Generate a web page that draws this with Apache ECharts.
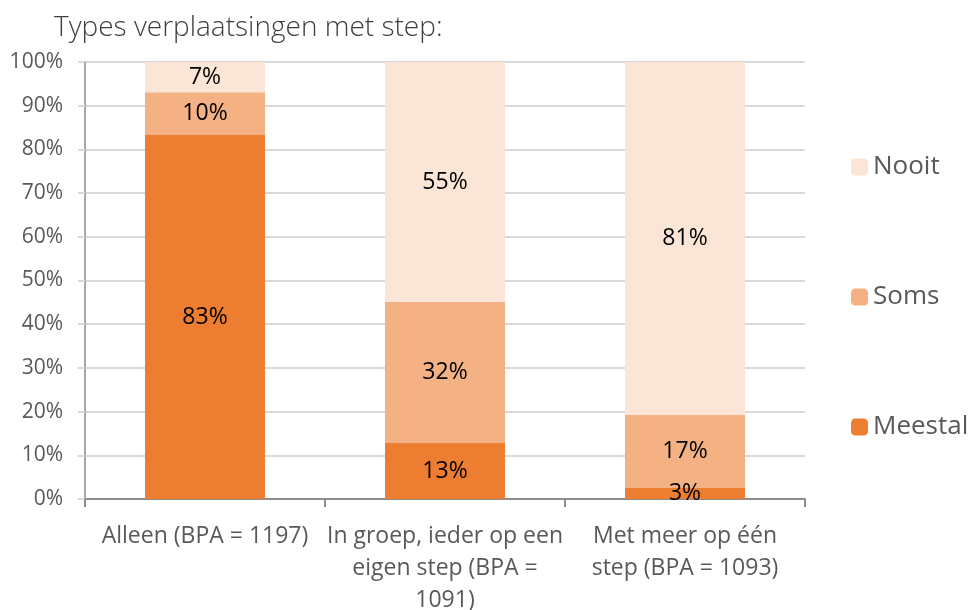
<!DOCTYPE html>
<html>
<head>
<meta charset="utf-8">
<script src="https://cdn.jsdelivr.net/npm/echarts@6/dist/echarts.min.js"></script>
<style>
  html, body { margin: 0; padding: 0; background: #fff; }
  #chart { width: 971px; height: 610px; }
</style>
</head>
<body>
<div id="chart"></div>
<script>
const categories = [
  'Alleen (BPA = 1197)',
  'In groep, ieder op een\neigen step (BPA =\n1091)',
  'Met meer op één\nstep (BPA = 1093)'
]
const meestal = [83.3, 12.8, 2.5]
const soms = [9.8, 32.3, 16.7]
const nooit = [6.9, 54.9, 80.8]
const yTicks = [0, 10, 20, 30, 40, 50, 60, 70, 80, 90, 100]

const font = '"Open Sans", "Liberation Sans", sans-serif'

let chart = echarts.init(document.getElementById('chart'))

const label = {
  show: true,
  position: 'inside',
  color: '#000',
  fontSize: 23,
  fontFamily: font,
  formatter: p => Math.round(p.value) + '%'
}

chart.setOption({
  animation: false,
  title: {
    text: 'Types verplaatsingen met step:',
    left: 49,
    top: 9,
    textStyle: { fontFamily: font, fontWeight: 300, fontSize: 28, color: '#404040' }
  },
  legend: {
    orient: 'vertical',
    left: 846,
    top: 149,
    itemGap: 104,
    itemWidth: 17,
    itemHeight: 17,
    data: ['Nooit', 'Soms', 'Meestal'],
    textStyle: { fontFamily: font, fontSize: 26, color: '#595959' }
  },
  grid: { left: 85, right: 166, top: 62, bottom: 111, containLabel: false, outerBoundsMode: 'none' },
  xAxis: {
    type: 'category',
    data: categories,
    axisLine: { lineStyle: { color: '#8c8c8c', width: 2 } },
    axisTick: { show: true, length: 8, lineStyle: { color: '#8c8c8c', width: 2 } },
    axisLabel: {
      fontFamily: font, fontSize: 23, color: '#595959',
      lineHeight: 32, margin: 21, interval: 0
    }
  },
  yAxis: {
    type: 'value',
    min: 0,
    max: 100,
    interval: 10,
    axisLine: { show: true, lineStyle: { color: '#a6a6a6', width: 2 } },
    axisTick: { show: true, length: 7, lineStyle: { color: '#d9d9d9', width: 2 } },
    splitLine: { lineStyle: { color: '#d9d9d9', width: 2 } },
    axisLabel: {
      fontFamily: font, fontSize: 21, color: '#595959', margin: 22,
      formatter: v => (yTicks.includes(v) ? v + '%' : '')
    }
  },
  series: [
    { name: 'Meestal', type: 'bar', stack: 'a', data: meestal, barWidth: 120,
      itemStyle: { color: '#ED7D31' }, label: label },
    { name: 'Soms', type: 'bar', stack: 'a', data: soms, barWidth: 120,
      itemStyle: { color: '#F4B183' }, label: label },
    { name: 'Nooit', type: 'bar', stack: 'a', data: nooit, barWidth: 120,
      itemStyle: { color: '#FBE5D6' }, label: label }
  ]
})
</script>
</body>
</html>
